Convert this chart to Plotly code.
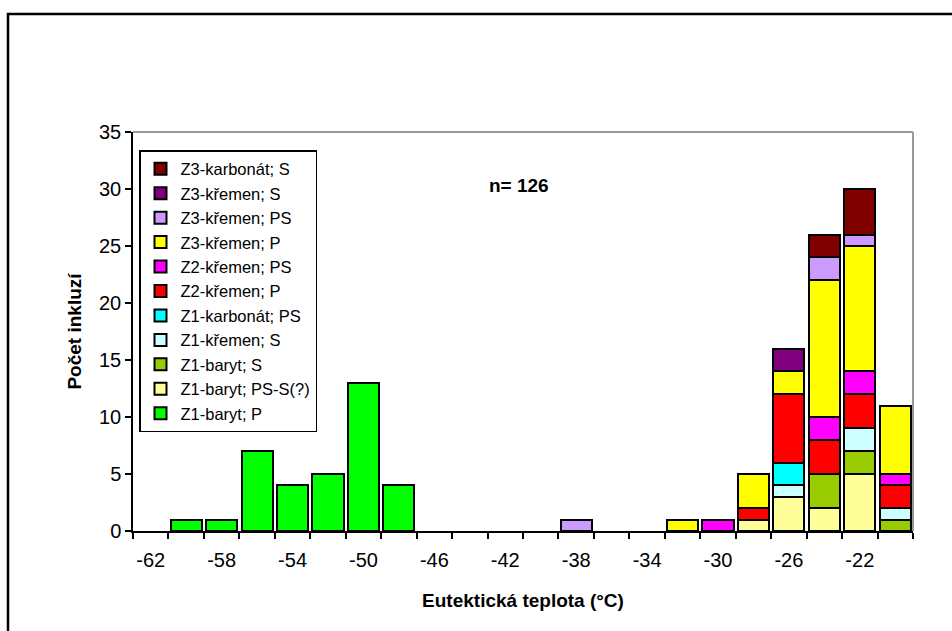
import plotly.graph_objects as go

categories = list(range(-62, -18, 2))  # -62 .. -20, bin centres
tick_labels = [-62, -58, -54, -50, -46, -42, -38, -34, -30, -26, -22]

z1_baryt_p      = [0, 1, 1, 7, 4, 5, 13, 4, 0, 0, 0, 0, 0, 0, 0, 0, 0, 0, 0, 0, 0, 0]
z1_baryt_ps_s   = [0, 0, 0, 0, 0, 0, 0, 0, 0, 0, 0, 0, 0, 0, 0, 0, 0, 1, 3, 2, 5, 0]
z1_baryt_s      = [0, 0, 0, 0, 0, 0, 0, 0, 0, 0, 0, 0, 0, 0, 0, 0, 0, 0, 0, 3, 2, 1]
z1_kremen_s     = [0, 0, 0, 0, 0, 0, 0, 0, 0, 0, 0, 0, 0, 0, 0, 0, 0, 0, 1, 0, 2, 1]
z1_karbonat_ps  = [0, 0, 0, 0, 0, 0, 0, 0, 0, 0, 0, 0, 0, 0, 0, 0, 0, 0, 2, 0, 0, 0]
z2_kremen_p     = [0, 0, 0, 0, 0, 0, 0, 0, 0, 0, 0, 0, 0, 0, 0, 0, 0, 1, 6, 3, 3, 2]
z2_kremen_ps    = [0, 0, 0, 0, 0, 0, 0, 0, 0, 0, 0, 0, 0, 0, 0, 0, 1, 0, 0, 2, 2, 1]
z3_kremen_p     = [0, 0, 0, 0, 0, 0, 0, 0, 0, 0, 0, 0, 0, 0, 0, 1, 0, 3, 2, 12, 11, 6]
z3_kremen_ps    = [0, 0, 0, 0, 0, 0, 0, 0, 0, 0, 0, 0, 1, 0, 0, 0, 0, 0, 0, 2, 1, 0]
z3_kremen_s     = [0, 0, 0, 0, 0, 0, 0, 0, 0, 0, 0, 0, 0, 0, 0, 0, 0, 0, 2, 0, 0, 0]
z3_karbonat_s   = [0, 0, 0, 0, 0, 0, 0, 0, 0, 0, 0, 0, 0, 0, 0, 0, 0, 0, 0, 2, 4, 0]

series = [
    ("Z1-baryt; P", z1_baryt_p, "#00FF00"),
    ("Z1-baryt; PS-S(?)", z1_baryt_ps_s, "#FFFF99"),
    ("Z1-baryt; S", z1_baryt_s, "#99CC00"),
    ("Z1-křemen; S", z1_kremen_s, "#CCFFFF"),
    ("Z1-karbonát; PS", z1_karbonat_ps, "#00FFFF"),
    ("Z2-křemen; P", z2_kremen_p, "#FF0000"),
    ("Z2-křemen; PS", z2_kremen_ps, "#FF00FF"),
    ("Z3-křemen; P", z3_kremen_p, "#FFFF00"),
    ("Z3-křemen; PS", z3_kremen_ps, "#CC99FF"),
    ("Z3-křemen; S", z3_kremen_s, "#800080"),
    ("Z3-karbonát; S", z3_karbonat_s, "#800000"),
]

FONT = "Arial, 'Liberation Sans', sans-serif"

fig = go.Figure()
for name, vals, col in series:
    fig.add_trace(go.Bar(
        x=categories,
        y=[v if v else None for v in vals],
        name=name,
        width=1.75,
        marker=dict(color=col, line=dict(color="black", width=2)),
    ))

L, R, T, B = 133, 39, 132, 100
W, H = 952, 631
pw, ph = W - L - R, H - T - B

fig.update_layout(
    width=W, height=H,
    margin=dict(l=L, r=R, t=T, b=B),
    barmode="stack",
    bargap=0,
    paper_bgcolor="white",
    plot_bgcolor="white",
    font=dict(family=FONT, size=20, color="black"),
    showlegend=True,
    legend=dict(
        x=(139 - L) / pw, y=(H - B - 150) / ph,
        xanchor="left", yanchor="top",
        traceorder="reversed",
        bordercolor="black", borderwidth=1.5,
        bgcolor="white",
        font=dict(family=FONT, size=16.5, color="black"),
        tracegroupgap=0,
        itemclick=False,
        itemwidth=30,
    ),
    xaxis=dict(
        range=[-63, -19],
        tickmode="array",
        tickvals=tick_labels,
        ticktext=[str(t) for t in tick_labels],
        ticks="",
        ticklabelstandoff=10,
        tickfont=dict(size=20),
        showgrid=False,
        zeroline=False,
        showline=True, linecolor="black", linewidth=1.5,
        minor=dict(tickmode="array",
                   tickvals=[c - 1 for c in categories] + [categories[-1] + 1],
                   ticks="outside", ticklen=6, tickcolor="black", tickwidth=1.5,
                   showgrid=False),
        title=dict(text="<b>Eutektická teplota (°C)</b>", font=dict(size=19), standoff=24),
    ),
    yaxis=dict(
        range=[0, 35],
        dtick=5,
        ticks="outside", ticklen=6, tickcolor="black", tickwidth=1.5,
        tickfont=dict(size=20),
        showgrid=False,
        zeroline=False,
        showline=True, linecolor="black", linewidth=1.5,
        title=dict(text="<b>Počet inkluzí</b>", font=dict(size=19), standoff=12),
    ),
    annotations=[dict(
        text="<b>n= 126</b>", x=(519 - L) / pw, y=(H - B - 185) / ph,
        xref="paper", yref="paper", showarrow=False,
        xanchor="center", yanchor="middle",
        font=dict(family=FONT, size=19, color="black"),
    )],
    shapes=[
        dict(type="line", xref="paper", yref="paper", x0=0, x1=1, y0=1, y1=1,
             line=dict(color="#999999", width=2)),
        dict(type="line", xref="paper", yref="paper", x0=1, x1=1, y0=0, y1=1,
             line=dict(color="#999999", width=2)),
        dict(type="rect", xref="paper", yref="paper",
             x0=(8 - L) / pw, x1=(970 - L) / pw,
             y0=(H - B - 650) / ph, y1=(H - B - 14) / ph,
             line=dict(color="black", width=2.5), fillcolor="rgba(0,0,0,0)", layer="below"),
    ],
)

fig.write_html("out.html")
